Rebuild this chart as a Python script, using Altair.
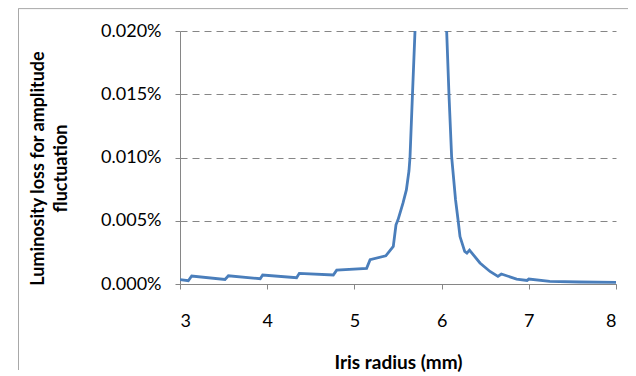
import altair as alt
import pandas as pd

radius = [3.00, 3.095, 3.134, 3.516, 3.555, 3.92, 3.948, 4.337, 4.368, 4.758, 4.797,
          5.14, 5.18, 5.36, 5.446, 5.477, 5.50, 5.557, 5.596, 5.626, 5.638, 5.666, 5.695,
          5.75, 5.85, 5.95, 6.00, 6.058, 6.085, 6.115, 6.16, 6.19, 6.211, 6.265, 6.29, 6.32,
          6.44, 6.555, 6.646, 6.685, 6.86, 6.98, 7.00, 7.24, 7.58, 8.00]
loss = [0.0000034, 0.0000026, 0.0000063, 0.0000036, 0.0000065, 0.0000042, 0.0000071,
        0.0000050, 0.0000084, 0.0000071, 0.0000110, 0.0000124, 0.0000192, 0.0000223,
        0.0000297, 0.0000468, 0.0000507, 0.0000639, 0.0000744, 0.0000895, 0.0001006,
        0.0001500, 0.0002000, 0.0006, 0.0015, 0.0015, 0.0006, 0.0002000, 0.0001490,
        0.0001006, 0.0000665, 0.0000500, 0.0000375, 0.0000257, 0.0000244, 0.0000268,
        0.0000166, 0.0000099, 0.0000060, 0.0000079, 0.0000039, 0.0000028, 0.0000039,
        0.0000021, 0.0000016, 0.0000013]

x_ticks = [3, 4, 5, 6, 7, 8]
y_ticks = [0.0, 0.00005, 0.0001, 0.00015, 0.0002]

df = pd.DataFrame({"r": radius, "v": loss})

FONT = "Lato"
GRAY = "#868686"
BORDER = "#a8a8a8"

xs = alt.Scale(domain=[3, 8], nice=False, zero=False)
ys = alt.Scale(domain=[0, 0.0002], nice=False)

line = alt.Chart(df).mark_line(color="#4a7ebb", strokeWidth=2.8, clip=True).encode(
    x=alt.X("r:Q", scale=xs,
            axis=alt.Axis(values=x_ticks, format="d", grid=False,
                          domainColor=GRAY, tickColor=GRAY, tickSize=5,
                          labelFont=FONT, labelFontSize=18, labelColor="#000000",
                          labelPadding=23,
                          title="Iris radius (mm)", titleFont=FONT, titleFontSize=19,
                          titleFontWeight="bold", titleColor="#000000",
                          titleY=78, titleBaseline="middle")),
    y=alt.Y("v:Q", scale=ys,
            axis=alt.Axis(values=y_ticks, format=".3%", grid=True,
                          gridColor=GRAY, gridDash=[7, 5], gridWidth=1,
                          domainColor=GRAY, tickColor=GRAY, tickSize=5,
                          labelFont=FONT, labelFontSize=18, labelColor="#000000",
                          labelPadding=14,
                          title=["Luminosity loss for amplitude", "fluctuation"],
                          titleFont=FONT, titleFontSize=18, titleFontWeight="bold",
                          titleColor="#000000", titleAngle=-90, titleAlign="center",
                          titleBaseline="middle", titleLineHeight=23,
                          titleX=-142, titleY=137)),
)

# Decorative outer frame (chart border), drawn in data space outside the plot area
frame_df = pd.DataFrame({"k": [1]})
left_border = alt.Chart(frame_df).mark_rule(color=BORDER, strokeWidth=1, clip=False).encode(
    x=alt.datum(1.148, type="quantitative"),
    y=alt.datum(0.0002177, type="quantitative"),
    y2=alt.datum(-0.000068))
top_border = alt.Chart(frame_df).mark_rule(color=BORDER, strokeWidth=1, clip=False).encode(
    x=alt.datum(1.145, type="quantitative"),
    x2=alt.datum(8.15),
    y=alt.datum(0.0002177, type="quantitative"))

chart = alt.layer(line, left_border, top_border).properties(
    width=436, height=253,
    autosize=alt.AutoSizeParams(type="none"),
    padding={"left": 172, "top": 23, "right": 12, "bottom": 90},
).configure_view(stroke=None)

chart.save("out.html", embed_options={"renderer": "svg", "actions": False})
